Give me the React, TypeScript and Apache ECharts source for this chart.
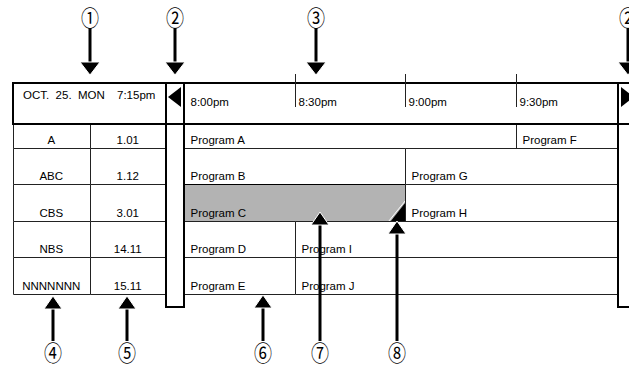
import React, { useEffect, useRef } from "react";
import * as echarts from "echarts";

// ---- data ----
const channels = ["A", "ABC", "CBS", "NBS", "NNNNNNN"];
const channelNumbers = ["1.01", "1.12", "3.01", "14.11", "15.11"];
const tableColumns = ["name", "number"];
const timeSlots = [0, 30, 60, 90]; // minutes after 8:00pm
const timeLabels = ["8:00pm", "8:30pm", "9:00pm", "9:30pm"];
const headerDate = "OCT.  25.  MON";
const headerNow = "7:15pm";
const programNames = [
  "Program A", "Program B", "Program C", "Program D", "Program E",
  "Program F", "Program G", "Program H", "Program I", "Program J",
];
const programChannels = [0, 1, 2, 3, 4, 0, 1, 2, 3, 4];
const programStarts = [0, 0, 0, 0, 0, 90, 60, 60, 30, 30];
const programEnds = [90, 60, 60, 30, 30, 120, 120, 120, 120, 120];
const selectedProgram = "Program C";
const calloutLabels = ["①", "②", "③", "②", "④", "⑤", "⑥", "⑦", "⑧"];

// ---- layout / style ----
const FONT = "11.5px 'Liberation Sans', Arial, Helvetica, sans-serif";
const CIRCLE_FONT = "22px 'Noto Sans CJK JP', 'Noto Sans CJK SC', sans-serif";
const calloutLayout = [
  { x: 90, cy: 17, tip: 75 },
  { x: 175, cy: 17, tip: 75 },
  { x: 316, cy: 17, tip: 75 },
  { x: 628, cy: 17, tip: 75 },
  { x: 53, cy: 352, tip: 296 },
  { x: 127, cy: 352, tip: 296 },
  { x: 263, cy: 352, tip: 295 },
  { x: 320, cy: 352, tip: 212 },
  { x: 397, cy: 352, tip: 221 },
];

const px = (v: number) => Math.round(v) + 0.5;

function buildCallouts(): any[] {
  const out: any[] = [];
  calloutLabels.forEach((label, i) => {
    const { x, cy, tip } = calloutLayout[i];
    const down = tip > cy;
    const headH = 13;
    const half = down ? 10 : 9;
    const base = down ? tip - headH : tip + headH;
    out.push({
      type: "line",
      z: 20,
      shape: { x1: x, y1: down ? cy + 11 : base, x2: x, y2: down ? base : cy - 11 },
      style: { stroke: "#000", lineWidth: 3 },
    });
    out.push({
      type: "polygon",
      z: 21,
      shape: { points: [[x - half, base], [x + half, base], [x, tip]] },
      style: { fill: "#000", stroke: "#fff", lineWidth: 1 },
    });
    out.push({
      type: "text",
      z: 21,
      x,
      y: cy,
      scaleX: 0.82,
      style: {
        text: label,
        x: 0,
        y: 0,
        font: CIRCLE_FONT,
        fill: "#000",
        align: "center",
        verticalAlign: "middle",
        textAlign: "center",
        textVerticalAlign: "middle",
      },
    });
  });
  return out;
}

export default function App() {
  const ref = useRef<HTMLDivElement>(null);
  useEffect(() => {
    if (!ref.current) return;
    const chart = echarts.init(ref.current, null, { renderer: "svg" });

    const programData = programNames.map((_, i) => [
      programChannels[i],
      programStarts[i],
      programEnds[i],
    ]);
    const tableData: number[][] = [];
    channels.forEach((_, r) => tableColumns.forEach((__, c) => tableData.push([c, r])));

    const option: any = {
      animation: false,
      backgroundColor: "#fff",
      grid: [
        { left: 184, width: 442, top: 111, height: 183 },
        { left: 13, width: 153, top: 111, height: 183 },
        { left: 184, width: 442, top: 83, height: 41 },
      ],
      xAxis: [
        { type: "value", gridIndex: 0, min: 0, max: 120, show: false },
        { type: "category", gridIndex: 1, data: tableColumns, show: false },
        { type: "value", gridIndex: 2, min: 0, max: 120, show: false },
      ],
      yAxis: [
        { type: "category", gridIndex: 0, data: channels, inverse: true, show: false },
        { type: "category", gridIndex: 1, data: channels, inverse: true, show: false },
        { type: "value", gridIndex: 2, min: 0, max: 1, show: false },
      ],
      series: [
        {
          type: "custom",
          xAxisIndex: 0,
          yAxisIndex: 0,
          z: 2,
          data: programData,
          encode: { x: [1, 2], y: 0 },
          renderItem: (params: any, api: any) => {
            const ch = api.value(0);
            const p1 = api.coord([api.value(1), ch]);
            const p2 = api.coord([api.value(2), ch]);
            const h = api.size([0, 1])[1];
            const top = px(p1[1] - h / 2);
            const bottom = px(p1[1] + h / 2);
            const x1 = px(p1[0]);
            const x2 = px(p2[0]);
            const name = programNames[params.dataIndex];
            const sel = name === selectedProgram;
            const children: any[] = [
              {
                type: "rect",
                shape: { x: x1, y: top, width: x2 - x1, height: bottom - top },
                style: { fill: sel ? "#b3b3b3" : "#fff", stroke: sel ? "#000" : "#222", lineWidth: 1 },
              },
            ];
            if (sel) {
              children.push({
                type: "polygon",
                shape: { points: [[x2 - 15, bottom], [x2, bottom], [x2, bottom - 19]] },
                style: { fill: "#000" },
              });
              children.push({
                type: "line",
                shape: { x1: x2 - 17, y1: bottom, x2: x2, y2: bottom - 21 },
                style: { stroke: "#fff", lineWidth: 1 },
              });
            }
            children.push({
              type: "text",
              style: {
                text: name,
                x: x1 + 6,
                y: bottom - 9,
                font: FONT,
                fill: "#000",
                verticalAlign: "middle",
                textVerticalAlign: "middle",
              },
            });
            return { type: "group", children };
          },
        },
        {
          type: "custom",
          xAxisIndex: 1,
          yAxisIndex: 1,
          z: 2,
          data: tableData,
          encode: { x: 0, y: 1 },
          renderItem: (params: any, api: any) => {
            const c = api.value(0);
            const r = api.value(1);
            const p = api.coord([c, r]);
            const w = api.size([1, 0])[0];
            const h = api.size([0, 1])[1];
            const x1 = px(p[0] - w / 2);
            const x2 = px(p[0] + w / 2);
            const top = px(p[1] - h / 2);
            const bottom = px(p[1] + h / 2);
            const text = c === 0 ? channels[r] : channelNumbers[r];
            return {
              type: "group",
              children: [
                {
                  type: "rect",
                  shape: { x: x1, y: top, width: x2 - x1, height: bottom - top },
                  style: { fill: "#fff", stroke: "#222", lineWidth: 1 },
                },
                {
                  type: "text",
                  style: {
                    text,
                    x: p[0],
                    y: bottom - 9,
                    font: FONT,
                    fill: "#000",
                    align: "center",
                    textAlign: "center",
                    verticalAlign: "middle",
                    textVerticalAlign: "middle",
                  },
                },
              ],
            };
          },
        },
        {
          type: "custom",
          xAxisIndex: 2,
          yAxisIndex: 2,
          z: 14,
          data: timeSlots.map((m, i) => [m, i]),
          encode: { x: 0 },
          renderItem: (params: any, api: any) => {
            const m = api.value(0);
            const x = px(api.coord([m, 0])[0]);
            const top = params.coordSys.y;
            const children: any[] = [];
            if (m > 0) {
              children.push({
                type: "line",
                shape: { x1: x, y1: top - 9, x2: x, y2: top + 24 },
                style: { stroke: "#222", lineWidth: 1 },
              });
            }
            children.push({
              type: "text",
              style: {
                text: timeLabels[params.dataIndex],
                x: x + (m > 0 ? 3 : 6),
                y: top + 19,
                font: FONT,
                fill: "#000",
                verticalAlign: "middle",
                textVerticalAlign: "middle",
              },
            });
            return { type: "group", children };
          },
        },
      ],
      graphic: [
        { type: "rect", z: 9, shape: { x: 13, y: 83, width: 620, height: 41 }, style: { fill: "#fff" } },
        { type: "rect", z: 9, shape: { x: 618, y: 83, width: 20, height: 224 }, style: { fill: "#fff" } },
        {
          type: "rect",
          z: 12,
          shape: { x: 13, y: 83, width: 620, height: 41 },
          style: { fill: "none", stroke: "#000", lineWidth: 2 },
        },
        {
          type: "rect",
          z: 12,
          shape: { x: 166, y: 83, width: 18, height: 224 },
          style: { fill: "none", stroke: "#000", lineWidth: 2 },
        },
        {
          type: "rect",
          z: 12,
          shape: { x: 618, y: 83, width: 20, height: 224 },
          style: { fill: "none", stroke: "#000", lineWidth: 2 },
        },
        {
          type: "polygon",
          z: 13,
          shape: { points: [[168, 97], [181, 87], [181, 107]] },
          style: { fill: "#000" },
        },
        {
          type: "polygon",
          z: 13,
          shape: { points: [[621, 87], [621, 107], [634, 97]] },
          style: { fill: "#000" },
        },
        {
          type: "text",
          z: 13,
          style: {
            text: headerDate,
            x: 23,
            y: 95,
            font: FONT,
            fill: "#000",
            verticalAlign: "middle",
            textVerticalAlign: "middle",
          },
        },
        {
          type: "text",
          z: 13,
          style: {
            text: headerNow,
            x: 117,
            y: 95,
            font: FONT,
            fill: "#000",
            verticalAlign: "middle",
            textVerticalAlign: "middle",
          },
        },
        ...buildCallouts(),
      ],
    };
    chart.setOption(option);
    return () => chart.dispose();
  }, []);
  return (
    <div
      ref={ref}
      style={{ position: "fixed", left: 0, top: 0, width: 629, height: 365, background: "#fff" }}
    />
  );
}
